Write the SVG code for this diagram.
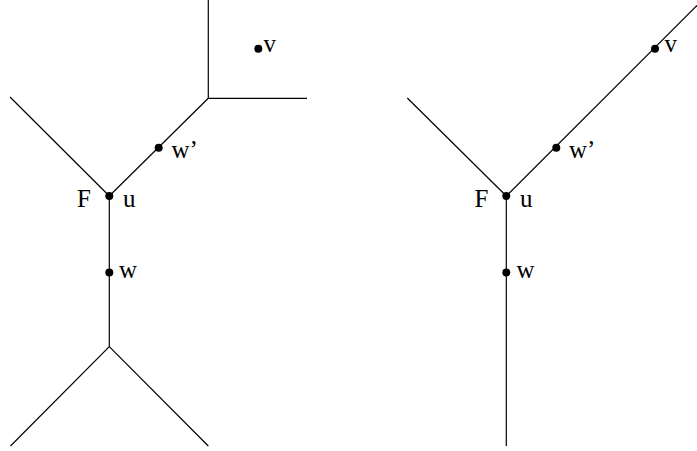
<svg xmlns="http://www.w3.org/2000/svg" width="697" height="451" viewBox="0 0 697 451">
<style>
.e{stroke:#000;stroke-width:1.2;fill:none}
.d{fill:#000}
text{font-family:"Liberation Serif","Times New Roman",serif;font-size:25px;fill:#000}
</style>
<rect width="697" height="451" fill="#fff"/>
<g id="connectors">
<line class="e" x1="208.3" y1="0" x2="208.3" y2="98.3"/>
<line class="e" x1="208.3" y1="98.3" x2="307" y2="98.3"/>
<line class="e" x1="208.3" y1="98.3" x2="109.3" y2="196"/>
<line class="e" x1="10" y1="97" x2="109.3" y2="196"/>
<line class="e" x1="109.3" y1="196" x2="109.3" y2="346.7"/>
<line class="e" x1="109.3" y1="346.7" x2="10.5" y2="446"/>
<line class="e" x1="109.3" y1="346.7" x2="208.3" y2="446"/>
<line class="e" x1="407.3" y1="98" x2="506.3" y2="196"/>
<line class="e" x1="506.3" y1="196" x2="697" y2="5.5"/>
<line class="e" x1="506.3" y1="196" x2="506.3" y2="446"/>
</g>
<g id="v-left"><circle class="d" cx="258.3" cy="48.7" r="4"/><text x="263.5" y="52.3">v</text></g>
<g id="wp-left"><circle class="d" cx="158.7" cy="147.7" r="4"/><text x="171.5" y="157.5">w’</text></g>
<g id="u-left"><circle class="d" cx="109.3" cy="196" r="4"/><text x="77" y="207.3">F</text><text x="123" y="207.3">u</text></g>
<g id="w-left"><circle class="d" cx="109.3" cy="272.5" r="4"/><text x="119" y="278.3">w</text></g>
<g id="v-right"><circle class="d" cx="655" cy="48.7" r="4"/><text x="664.5" y="52.3">v</text></g>
<g id="wp-right"><circle class="d" cx="556.3" cy="147.7" r="4"/><text x="569" y="157.5">w’</text></g>
<g id="u-right"><circle class="d" cx="506.3" cy="196" r="4"/><text x="474.5" y="207.3">F</text><text x="520" y="207.3">u</text></g>
<g id="w-right"><circle class="d" cx="506.3" cy="272.5" r="4"/><text x="516.5" y="278.3">w</text></g>
</svg>
